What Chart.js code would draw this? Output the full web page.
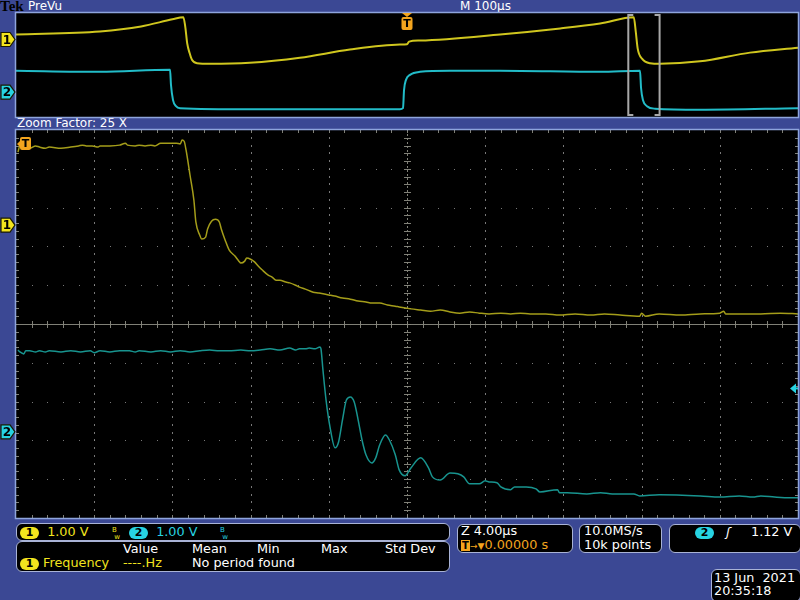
<!DOCTYPE html>
<html>
<head>
<meta charset="utf-8">
<script src="https://cdn.jsdelivr.net/npm/chart.js@4/dist/chart.umd.min.js"></script>
<style>
  body { margin: 0; width: 800px; height: 600px; overflow: hidden; position: relative;
         background: #3b4894; font-family: 'DejaVu Sans', sans-serif; font-size: 12px; color: #fff; }
  .abs { position: absolute; white-space: pre; line-height: 14px; }
  .lg { font-size: 12.8px; }
  canvas { position: absolute; left: 0; }
  .box { position: absolute; background: #000; border: 1.5px solid #a9b3d6; border-radius: 6px; box-sizing: border-box; }
  .pill { display: inline-block; width: 19px; height: 12px; border-radius: 6px; color: #000; font-weight: bold;
          text-align: center; line-height: 12px; font-size: 11px; vertical-align: middle; }
  .y { color: #f2e41e; }
  .c { color: #27d3e2; }
  .o { color: #f3a41e; }
  .bw { font-size: 7px; line-height: 7px; }
</style>
</head>
<body>
<div class="abs" style="left:0;top:-2px;font-family:'Liberation Serif';font-weight:bold;font-size:15px;color:#000;line-height:16px">Tek</div>
<div class="abs" style="left:28px;top:-1px">PreVu</div>
<div class="abs" style="left:460px;top:-1px">M 100µs</div>
<div class="abs" style="left:17px;top:116px">Zoom Factor: 25 X</div>

<canvas id="over" width="800" height="110" style="top:10px"></canvas>
<canvas id="zoom" width="800" height="395" style="top:127px"></canvas>

<div class="box" style="left:16px;top:523px;width:434px;height:18px"></div>
<div class="abs lg" style="left:20px;top:525px"><span class="pill" style="background:#f2e41e">1</span>  <span class="y">1.00 V</span></div>
<div class="abs y bw" style="left:112px;top:527px">B<br> w</div>
<div class="abs lg" style="left:129px;top:525px"><span class="pill" style="background:#27d3e2">2</span>  <span class="c">1.00 V</span></div>
<div class="abs c bw" style="left:220px;top:527px">B<br> w</div>

<div class="box" style="left:16px;top:541px;width:434px;height:31px"></div>
<div class="abs lg" style="left:123px;top:542px">Value</div>
<div class="abs lg" style="left:192px;top:542px">Mean</div>
<div class="abs lg" style="left:257px;top:542px">Min</div>
<div class="abs lg" style="left:321px;top:542px">Max</div>
<div class="abs lg" style="left:385px;top:542px">Std Dev</div>
<div class="abs lg" style="left:20px;top:556px"><span class="pill" style="background:#f2e41e">1</span><span class="y"> Frequency</span></div>
<div class="abs lg y" style="left:123px;top:556px">----.Hz</div>
<div class="abs lg" style="left:192px;top:556px">No period found</div>

<div class="box" style="left:457px;top:524px;width:116px;height:29px"></div>
<div class="abs lg" style="left:461px;top:524px">Z 4.00µs</div>
<div class="abs lg o" style="left:461px;top:538px"><span style="display:inline-block;width:9px;height:11px;background:#f3a41e;color:#000;font-size:10px;font-weight:bold;text-align:center;line-height:11px;vertical-align:middle">T</span><span style="font-size:9px">→▼</span>0.00000 s</div>

<div class="box" style="left:579px;top:524px;width:83px;height:29px"></div>
<div class="abs lg" style="left:584px;top:524px">10.0MS/s</div>
<div class="abs lg" style="left:584px;top:538px">10k points</div>

<div class="box" style="left:669px;top:524px;width:132px;height:29px"></div>
<div class="abs lg" style="left:695px;top:525px"><span class="pill" style="background:#27d3e2">2</span></div>
<div class="abs lg" style="left:726px;top:525px"><i>ʃ</i></div>
<div class="abs lg" style="left:751px;top:525px">1.12 V</div>

<div class="box" style="left:711px;top:569px;width:90px;height:33px"></div>
<div class="abs lg" style="left:714px;top:571px">13 Jun  2021</div>
<div class="abs lg" style="left:714px;top:584px">20:35:18</div>

<script>
// ---- overview (PreVu) record, 100 µs/div, 1 V/div ----
const ovTime1 = [-500, -392.6, -340, -300, -286, -283.5, -281, -278, -275, -268.5, -252, -201, -137, -73, -9, 0, 2.6, 16.6, 119, 196, 247, 290, 292.5, 295, 300.5, 310.7, 323.5, 374.7, 438.6, 500];
const ovCh1 = [0.49, 0.78, 1.26, 1.94, 2.14, 1.2, -0.4, -1.3, -1.94, -2.28, -2.33, -2.23, -1.75, -0.97, -0.49, -0.45, -0.2, -0.10, 0.49, 1.07, 1.55, 2.14, 0.78, -0.87, -1.84, -2.28, -2.33, -2.1, -1.26, -0.78];
const ovTime2 = [-500, -392.6, -303, -301.8, -299.2, -295.4, -290.3, -200.8, -136.8, -9.0, -5.1, -3.8, -1.3, 3.8, 16.6, 55, 119, 247, 298, 299.3, 301.8, 306.9, 317.2, 374.7, 500];
const ovCh2 = [2.04, 1.94, 2.14, 0.68, -0.78, -1.36, -1.55, -1.65, -1.65, -1.65, -1.55, 0.19, 1.17, 1.65, 1.94, 2.04, 2.04, 1.94, 2.04, 0.39, -0.78, -1.36, -1.60, -1.70, -1.55];

// ---- zoom window, 4 µs/div, time relative to zoom centre ----
const zoomTime1 = [-19.9, -19.8, -19.5, -19.3, -19.0, -18.8, -18.5, -18.3, -17.7, -17.2, -16.8, -16.6, -16.4, -16.1, -15.8, -15.7, -15.2, -14.7, -14.4, -14.3,
  -13.9, -13.7, -13.4, -13.1, -12.9, -12.6, -12.4, -12.1, -11.8, -11.6, -11.5, -11.4, -11.3, -11.1, -10.9, -10.8, -10.6, -10.5, -10.3, -10.2,
  -10.0, -9.8, -9.6, -9.5, -9.3, -9.1, -8.8, -8.6, -8.5, -8.3, -8.2, -8.0, -7.8, -7.6, -7.4, -7.1, -6.9, -6.7, -6.5, -6.2,
  -6.0, -5.7, -5.5, -5.2, -4.8, -4.5, -4.0, -3.7, -3.3, -2.9, -2.5, -2.1, -1.8, -1.4, -1.0, -0.6, -0.4, 0.2, 0.7, 1.2,
  1.7, 2.2, 2.7, 3.2, 3.7, 4.2, 4.8, 5.3, 5.8, 6.3, 7.1, 7.8, 8.6, 9.4, 10.1, 10.9, 11.9, 12.0, 12.2, 12.9,
  14.0, 15.0, 16.0, 16.2, 16.3, 17.0, 18.1, 19.1, 20.0];
const zoomCh1 = [1.88, 2.04, 2.01, 1.98, 2.04, 2.01, 1.98, 2.01, 1.98, 2.01, 2.04, 2.06, 2.04, 2.04, 2.01, 2.04, 2.04, 2.06, 2.11, 2.06,
  2.04, 2.06, 2.04, 2.06, 2.04, 2.11, 2.11, 2.11, 2.11, 2.09, 2.19, 2.16, 1.93, 1.29, 0.64, 0.08, -0.26, -0.36, -0.31, -0.10,
  0.10, 0.15, 0.08, -0.10, -0.39, -0.64, -0.80, -0.93, -0.98, -0.93, -0.85, -0.88, -0.95, -1.06, -1.16, -1.29, -1.34, -1.42, -1.42, -1.47,
  -1.49, -1.55, -1.60, -1.65, -1.73, -1.75, -1.80, -1.83, -1.88, -1.91, -1.96, -1.98, -2.01, -2.01, -2.06, -2.09, -2.11, -2.16, -2.19, -2.22,
  -2.19, -2.24, -2.27, -2.24, -2.27, -2.29, -2.27, -2.29, -2.27, -2.29, -2.29, -2.32, -2.29, -2.32, -2.29, -2.32, -2.35, -2.27, -2.35, -2.29,
  -2.32, -2.29, -2.27, -2.22, -2.29, -2.29, -2.29, -2.27, -2.29];
const zoomTime2 = [-19.9, -19.8, -19.6, -19.5, -19.3, -19.0, -18.8, -18.5, -18.3, -17.7, -17.2, -16.7, -16.2, -16.0, -15.7, -15.2, -14.7, -14.2, -13.9, -13.7,
  -13.1, -12.6, -12.1, -11.6, -11.1, -10.6, -10.1, -9.6, -9.1, -8.5, -8.0, -7.5, -7.0, -6.5, -6.0, -5.7, -5.5, -5.2, -5.0, -4.7,
  -4.45, -4.4, -4.3, -4.14, -3.94, -3.68, -3.5, -3.3, -3.1, -2.9, -2.7, -2.5, -2.3, -2.1, -1.8, -1.6, -1.4, -1.1, -0.9, -0.6,
  -0.4, -0.1, 0.2, 0.7, 1.1, 1.3, 1.7, 2.2, 2.6, 2.9, 3.2, 3.7, 4.0, 4.2, 4.6, 4.8, 5.3, 5.5, 6.1, 6.6,
  6.8, 7.7, 7.8, 8.2, 9.2, 9.9, 10.5, 11.6, 11.9, 12.9, 15.0, 16.0, 17.0, 17.7, 18.1, 18.8, 19.6, 20.0];
const zoomCh2 = [2.11, 2.06, 2.01, 2.09, 2.09, 2.06, 2.09, 2.06, 2.09, 2.06, 2.09, 2.06, 2.09, 2.04, 2.09, 2.06, 2.09, 2.09, 2.06, 2.09,
  2.06, 2.09, 2.06, 2.09, 2.06, 2.09, 2.11, 2.09, 2.09, 2.11, 2.09, 2.11, 2.14, 2.11, 2.16, 2.11, 2.14, 2.14, 2.16, 2.14,
  2.19, 2.14, 1.60, 0.82, 0.13, -0.41, -0.26, 0.31, 0.82, 0.90, 0.77, 0.31, -0.21, -0.59, -0.80, -0.67, -0.34, -0.08, -0.21, -0.59,
  -0.98, -1.13, -0.93, -0.67, -0.93, -1.16, -1.24, -1.06, -1.08, -1.16, -1.34, -1.34, -1.26, -1.29, -1.31, -1.42, -1.49, -1.42, -1.42, -1.47,
  -1.55, -1.49, -1.57, -1.57, -1.60, -1.57, -1.60, -1.60, -1.65, -1.62, -1.65, -1.68, -1.65, -1.68, -1.65, -1.68, -1.70, -1.70];

// scope settings
const zoomCenter = 303;   // µs, centre of the zoom window in the record
const zoomSpan = 40;      // 10 div x 4 µs
const trigLevel2 = 1.12;  // V on channel 2
const zoomPos1 = 2.55, zoomPos2 = -2.78;  // channel positions in divisions
const ovPos1 = 2.45, ovPos2 = -2.6;

const pts = (t, v) => t.map((x, i) => ({ x: x, y: v[i] }));

function drawGraticule(ctx, a) {
  const w = a.right - a.left, h = a.bottom - a.top;
  const dx = w / 10, dy = h / 10;
  const cx = Math.round(a.left + 5 * dx), cy = Math.round(a.top + 5 * dy);
  ctx.fillStyle = 'rgba(150,150,150,0.8)';
  for (let i = 1; i < 10; i++) {
    if (i === 5) continue;
    const x = Math.round(a.left + i * dx);
    for (let k = 1; k < 50; k++) ctx.fillRect(x, Math.round(a.top + k * dy / 5) - 1, 1, 2);
    const y = Math.round(a.top + i * dy);
    for (let k = 1; k < 50; k++) ctx.fillRect(Math.round(a.left + k * dx / 5), y, 1, 1);
  }
  // centre cross with ticks
  ctx.fillStyle = 'rgba(135,135,125,0.95)';
  ctx.fillRect(a.left, cy, w, 1);
  for (let y = a.top; y < a.bottom; y += 4) ctx.fillRect(cx, y, 1, 2);
  for (let k = 1; k < 50; k++) {
    const x = Math.round(a.left + k * dx / 5);
    ctx.fillRect(x, cy - 3, 1, 7);
    ctx.fillRect(x, a.top, 1, 3);
    ctx.fillRect(x, a.bottom - 3, 1, 3);
    const y = Math.round(a.top + k * dy / 5);
    ctx.fillRect(cx - 3, y, 7, 1);
    ctx.fillRect(a.left, y, 3, 1);
    ctx.fillRect(a.right - 3, y, 3, 1);
  }
}

function chMarker(ctx, y, label, fill) {
  ctx.beginPath();
  ctx.moveTo(1, y - 7); ctx.lineTo(10, y - 7); ctx.lineTo(15, y);
  ctx.lineTo(10, y + 7); ctx.lineTo(1, y + 7); ctx.closePath();
  ctx.fillStyle = fill; ctx.fill();
  ctx.lineWidth = 1.2; ctx.strokeStyle = '#1a1a00'; ctx.stroke();
  ctx.fillStyle = '#000'; ctx.font = 'bold 12px "DejaVu Sans"';
  ctx.textAlign = 'center'; ctx.textBaseline = 'middle';
  ctx.fillText(label, 7, y + 1);
}

function trigBox(ctx, x, y) {
  ctx.fillStyle = '#f3a41e';
  ctx.beginPath(); ctx.roundRect(x, y, 11, 13, 2); ctx.fill();
  ctx.fillStyle = '#000'; ctx.font = 'bold 11px "DejaVu Sans"';
  ctx.textAlign = 'center'; ctx.textBaseline = 'middle';
  ctx.fillText('T', x + 5.5, y + 7);
}

const scopePlugin = {
  id: 'scope',
  beforeDraw(chart, args, opts) {
    const { ctx, chartArea: a } = chart;
    ctx.save();
    ctx.fillStyle = '#000';
    ctx.fillRect(a.left, a.top, a.right - a.left, a.bottom - a.top);
    if (opts.graticule) drawGraticule(ctx, a);
    ctx.restore();
  },
  afterDraw(chart, args, opts) {
    const { ctx, chartArea: a, scales } = chart;
    ctx.save();
    ctx.strokeStyle = '#8ea4dc'; ctx.lineWidth = 1.5;
    ctx.strokeRect(a.left - 0.5, a.top - 0.5, a.right - a.left + 1, a.bottom - a.top + 1);
    chMarker(ctx, scales.y1.getPixelForValue(0), '1', '#f2e41e');
    chMarker(ctx, scales.y2.getPixelForValue(0), '2', '#27d3e2');
    if (opts.overview) {
      // zoom window brackets
      const x0 = scales.x.getPixelForValue(zoomCenter - zoomSpan / 2);
      const x1 = scales.x.getPixelForValue(zoomCenter + zoomSpan / 2);
      ctx.strokeStyle = '#a8a8a8'; ctx.lineWidth = 2;
      ctx.beginPath();
      ctx.moveTo(x0 + 5, a.top + 2); ctx.lineTo(x0, a.top + 2); ctx.lineTo(x0, a.bottom - 2); ctx.lineTo(x0 + 5, a.bottom - 2);
      ctx.moveTo(x1 - 5, a.top + 2); ctx.lineTo(x1, a.top + 2); ctx.lineTo(x1, a.bottom - 2); ctx.lineTo(x1 - 5, a.bottom - 2);
      ctx.stroke();
      // trigger position
      const tx = scales.x.getPixelForValue(0);
      ctx.fillStyle = '#f3a41e';
      ctx.beginPath(); ctx.moveTo(tx - 5, a.top); ctx.lineTo(tx + 5, a.top); ctx.lineTo(tx, a.top + 4); ctx.fill();
      trigBox(ctx, tx - 5.5, a.top + 4);
    } else {
      // trigger is left of the zoom window
      ctx.fillStyle = '#f3a41e';
      ctx.beginPath(); ctx.moveTo(a.left + 1, a.top + 14); ctx.lineTo(a.left + 5, a.top + 10); ctx.lineTo(a.left + 5, a.top + 18); ctx.fill();
      trigBox(ctx, a.left + 4, a.top + 7);
      // trigger level on channel 2
      const ty = scales.y2.getPixelForValue(trigLevel2);
      ctx.fillStyle = '#27d3e2';
      ctx.beginPath(); ctx.moveTo(a.right - 8, ty); ctx.lineTo(a.right - 2, ty - 5); ctx.lineTo(a.right - 2, ty + 5); ctx.fill();
      ctx.fillRect(a.right - 4, ty - 1, 4, 2);
    }
    ctx.restore();
  }
};

function scopeChart(id, sets, xr, pos1, pos2, pad, opts) {
  return new Chart(document.getElementById(id), {
    type: 'scatter',
    data: { datasets: sets },
    plugins: [scopePlugin],
    options: {
      responsive: false, animation: false, devicePixelRatio: 1,
      layout: { padding: pad },
      plugins: { legend: { display: false }, tooltip: { enabled: false }, scope: opts },
      scales: {
        x: { type: 'linear', min: xr[0], max: xr[1], display: false },
        y1: { type: 'linear', min: -5 - pos1, max: 5 - pos1, display: false },
        y2: { type: 'linear', min: -5 - pos2, max: 5 - pos2, display: false }
      }
    }
  });
}

const line = (data, color, w, axis) => ({
  data: data, showLine: true, borderColor: color, borderWidth: w,
  pointRadius: 0, cubicInterpolationMode: 'monotone', yAxisID: axis
});

scopeChart('over', [
  line(pts(ovTime2, ovCh2), '#22bcc8', 2, 'y2'),
  line(pts(ovTime1, ovCh1), '#cfc61e', 2, 'y1')
], [-500, 500], ovPos1, ovPos2, { left: 16, right: 2, top: 3, bottom: 3 }, { overview: true });

scopeChart('zoom', [
  line(pts(zoomTime1, zoomCh1), '#a49d1a', 1.5, 'y1'),
  line(pts(zoomTime2, zoomCh2), '#18948f', 1.5, 'y2')
], [-zoomSpan / 2, zoomSpan / 2], zoomPos1, zoomPos2, { left: 16, right: 2, top: 3, bottom: 4 }, { graticule: true });
</script>
</body>
</html>
